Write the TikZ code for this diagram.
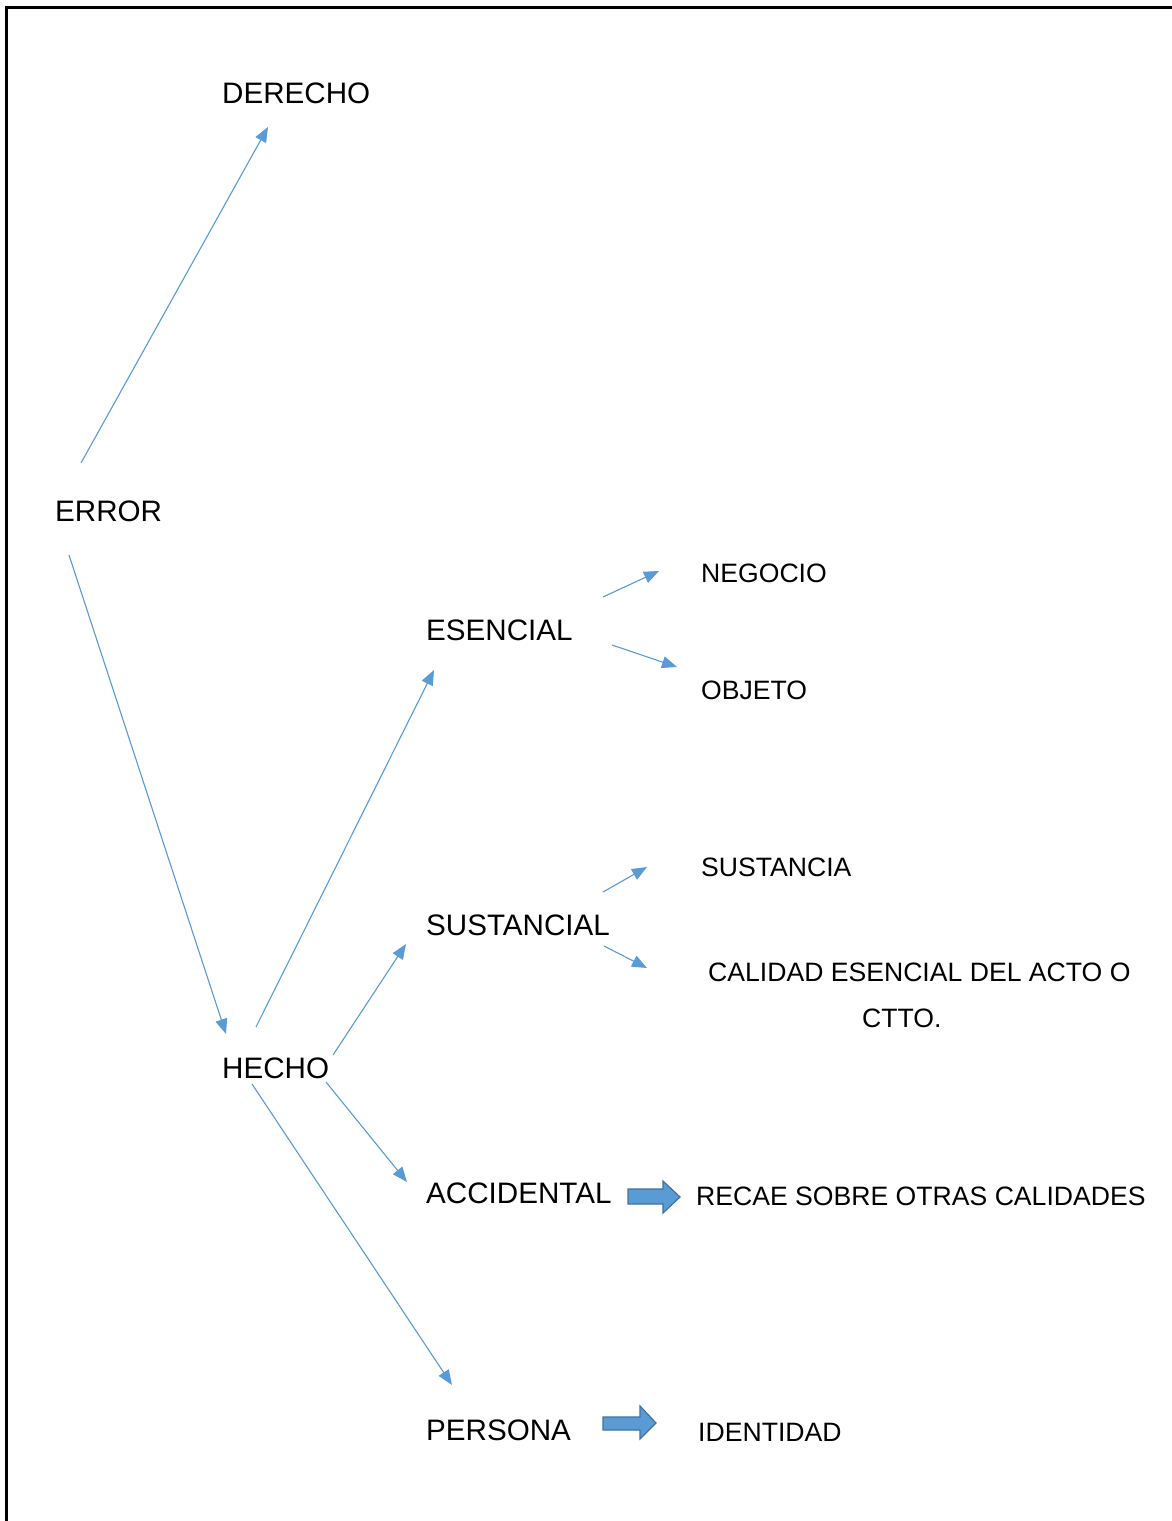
\documentclass[tikz,border=0pt]{standalone}
\usepackage{fontspec}
\setmainfont{Liberation Sans}
\usetikzlibrary{arrows.meta}
\definecolor{lineblue}{HTML}{5B9BD5}
\definecolor{fillblue}{HTML}{5B9BD5}
\definecolor{edgeblue}{HTML}{41719C}
\begin{document}
\begin{tikzpicture}[x=1pt,y=-1pt,
  big/.style={anchor=base west,inner sep=0pt,font=\fontsize{29.6}{35}\selectfont},
  small/.style={anchor=base west,inner sep=0pt,font=\fontsize{26.6}{32}\selectfont},
  conn/.style={draw=lineblue,line width=1.1pt,-{Triangle[length=15pt,width=12pt]},fill=lineblue},
  blockarrow/.style={fill=fillblue,draw=edgeblue,line width=1.2pt,line join=miter}]
\useasboundingbox (0,0) rectangle (1172,1521);
% frame
\draw[line width=3.2pt] (6.5,1521) -- (6.5,7.5) -- (1172,7.5);
% texts
\node[big] (derecho) at (222,103) {DERECHO};
\node[big] (error) at (55,521) {ERROR};
\node[big] (esencial) at (426,640) {ESENCIAL};
\node[small] (negocio) at (701,582.5) {NEGOCIO};
\node[small] (objeto) at (701,699.5) {OBJETO};
\node[small] (sustancia) at (701,876.5) {SUSTANCIA};
\node[big] (sustancial) at (426,935) {SUSTANCIAL};
\node[small] (calidad) at (708,981.5) {CALIDAD ESENCIAL DEL ACTO O};
\node[small] (ctto) at (862,1027.5) {CTTO.};
\node[big] (hecho) at (222,1078) {HECHO};
\node[big] (accidental) at (426,1203) {ACCIDENTAL};
\node[small] (recae) at (696,1205.5) {RECAE SOBRE OTRAS CALIDADES};
\node[big] (persona) at (426,1440) {PERSONA};
\node[small] (identidad) at (698,1441.5) {IDENTIDAD};
% connector ends
\coordinate (e1) at (81,463);   \coordinate (d1) at (268,127);
\coordinate (e2) at (69,555);   \coordinate (h1) at (226,1034);
\coordinate (h2) at (256,1027); \coordinate (es1) at (434,670);
\coordinate (h3) at (333,1055); \coordinate (su1) at (406,944);
\coordinate (h4) at (326,1082); \coordinate (ac1) at (407,1182);
\coordinate (h5) at (252,1084); \coordinate (pe1) at (452,1385);
\coordinate (es2) at (603,597); \coordinate (ne1) at (659,571);
\coordinate (es3) at (612,645); \coordinate (ob1) at (677,667);
\coordinate (su2) at (603,892); \coordinate (st1) at (647,867);
\coordinate (su3) at (604,946); \coordinate (ca1) at (647,968);
\draw[conn] (e1) -- (d1);
\draw[conn] (e2) -- (h1);
\draw[conn] (h2) -- (es1);
\draw[conn] (h3) -- (su1);
\draw[conn] (h4) -- (ac1);
\draw[conn] (h5) -- (pe1);
\draw[conn] (es2) -- (ne1);
\draw[conn] (es3) -- (ob1);
\draw[conn] (su2) -- (st1);
\draw[conn] (su3) -- (ca1);
% block arrows
\draw[blockarrow] (628,1189) -- (663,1189) -- (663,1181) -- (680,1197) -- (663,1213) -- (663,1204) -- (628,1204) -- cycle;
\draw[blockarrow] (603,1417) -- (640,1417) -- (640,1406) -- (656,1423) -- (640,1439) -- (640,1430) -- (603,1430) -- cycle;
\end{tikzpicture}
\end{document}
